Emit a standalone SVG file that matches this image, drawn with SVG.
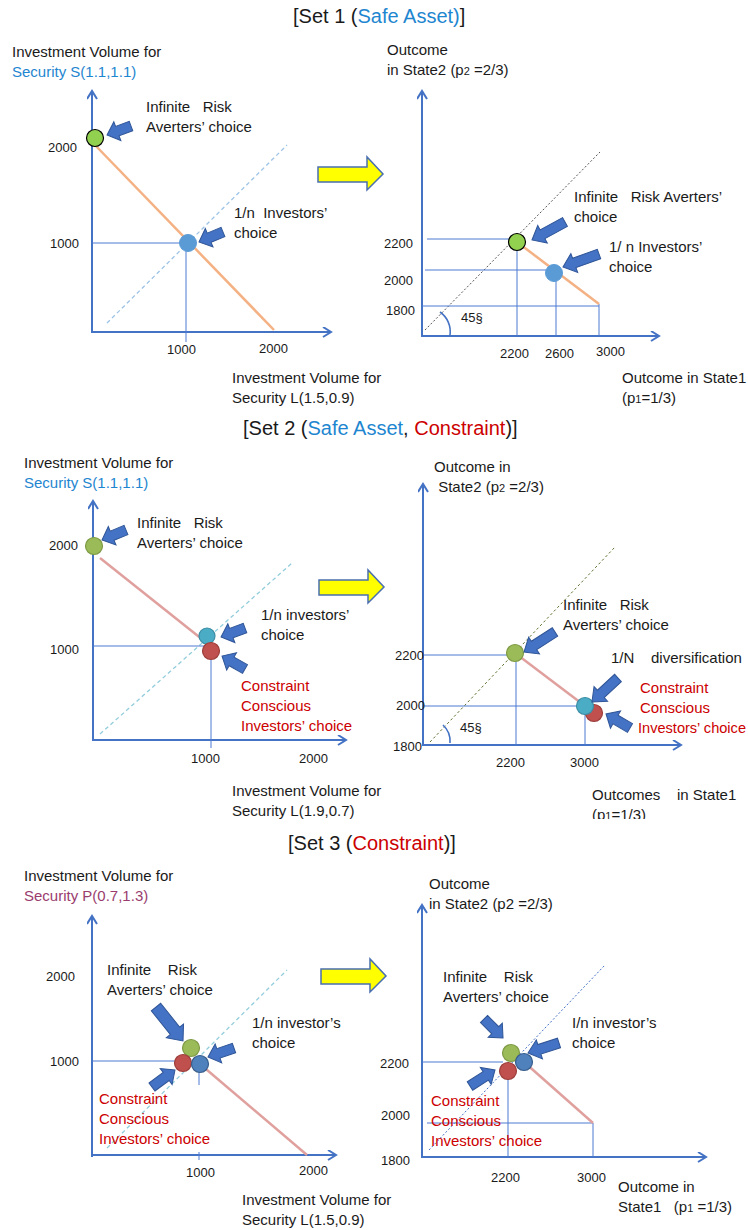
<svg xmlns="http://www.w3.org/2000/svg" width="748" height="1230" viewBox="0 0 748 1230">
<style>
text{font-family:"Liberation Sans",Arial,sans-serif;font-size:15px;fill:#1a1a1a;white-space:pre}
.title{font-size:20px}
.tick{font-size:13px}
.blue{fill:#1E86D0}
.red{fill:#CC0000}
.purple{fill:#9A3D6E}
.axis{stroke:#4472C4;stroke-width:2;fill:none;marker-end:url(#ah)}
.guide{stroke:#4A7BD0;stroke-width:1;fill:none}
.ba{fill:#4472C4;stroke:#2F5597;stroke-width:1}
.yel{fill:#FFFF00;stroke:#4A6FB0;stroke-width:1.5}
.sub{font-size:11px}
</style>
<defs>
<marker id="ah" markerWidth="12" markerHeight="12" refX="9" refY="5" orient="auto" markerUnits="userSpaceOnUse">
<path d="M1,0 L9,5 L1,10" fill="none" stroke="#4472C4" stroke-width="2"/>
</marker>
<path id="yarrow" d="M0,9 H49 V-1 L65,16 L49,32 V24 H0 Z"/>
<clipPath id="clip2"><rect x="0" y="0" width="748" height="819"/></clipPath>
</defs>

<!-- ================= SET 1 ================= -->
<g id="set1">
<text class="title" x="293" y="23">[Set 1 (<tspan class="blue">Safe Asset)</tspan>]</text>

<g id="set1-left">
<text x="12" y="57">Investment Volume for</text>
<text x="12" y="77" class="blue">Security S(1.1,1.1)</text>
<line class="axis" x1="92" y1="333" x2="92" y2="91"/>
<line class="axis" x1="91" y1="332" x2="331" y2="332"/>
<line x1="107" y1="323" x2="287" y2="145" stroke="#9DC3E6" stroke-width="1.3" stroke-dasharray="4,3"/>
<line x1="95" y1="145" x2="274" y2="330" stroke="#F4B183" stroke-width="2.5"/>
<line class="guide" x1="92" y1="243" x2="186" y2="243"/>
<line class="guide" x1="186" y1="243" x2="186" y2="342"/>
<circle cx="95" cy="138" r="8.5" fill="#92D050" stroke="#000" stroke-width="1.2"/>
<circle cx="188" cy="243" r="8.5" fill="#5B9BD5" stroke="#5B9BD5"/>
<text class="tick" x="48" y="152">2000</text>
<text class="tick" x="50" y="248">1000</text>
<text class="tick" x="167" y="354">1000</text>
<text class="tick" x="259" y="353">2000</text>
<text x="146" y="112">Infinite   Risk</text>
<text x="146" y="132">Averters’ choice</text>
<text x="234" y="218">1/n  Investors’</text>
<text x="234" y="238">choice</text>
<text x="232" y="383">Investment Volume for</text>
<text x="232" y="403">Security L(1.5,0.9)</text>
</g>

<use href="#yarrow" class="yel" x="318" y="158"/>

<g id="set1-right">
<text x="387" y="55">Outcome</text>
<text x="387" y="75">in State2 (p<tspan class="sub">2</tspan> =2/3)</text>
<line class="axis" x1="422" y1="337" x2="422" y2="91"/>
<line class="axis" x1="421" y1="336" x2="659" y2="336"/>
<line x1="425" y1="330" x2="600" y2="152" stroke="#555" stroke-width="1" stroke-dasharray="2,2"/>
<line class="guide" x1="427" y1="239" x2="515" y2="239"/>
<line class="guide" x1="425" y1="270" x2="552" y2="270"/>
<line class="guide" x1="422" y1="306" x2="599" y2="306"/>
<line class="guide" x1="517" y1="242" x2="517" y2="336"/>
<line class="guide" x1="556" y1="273" x2="556" y2="336"/>
<line class="guide" x1="599" y1="304" x2="599" y2="336"/>
<line x1="517" y1="242" x2="599" y2="304" stroke="#F4B183" stroke-width="2.5"/>
<circle cx="517" cy="242" r="8.5" fill="#92D050" stroke="#000" stroke-width="1.2"/>
<circle cx="554" cy="273" r="8.5" fill="#5B9BD5" stroke="#5B9BD5"/>
<path d="M440,312 A24,24 0 0 1 450,335" fill="none" stroke="#4472C4" stroke-width="1.6"/>
<text class="tick" x="461" y="322">45§</text>
<text class="tick" x="384" y="248">2200</text>
<text class="tick" x="384" y="285">2000</text>
<text class="tick" x="386" y="315">1800</text>
<text class="tick" x="500" y="358">2200</text>
<text class="tick" x="545" y="358">2600</text>
<text class="tick" x="596" y="356">3000</text>
<text x="574" y="202">Infinite   Risk Averters’</text>
<text x="574" y="222">choice</text>
<text x="609" y="252">1/ n Investors’</text>
<text x="609" y="272">choice</text>
<text x="622" y="383">Outcome in State1</text>
<text x="622" y="403">(p<tspan class="sub">1</tspan>=1/3)</text>
</g>
</g>

<!-- ================= SET 2 ================= -->
<g id="set2">
<text class="title" x="243" y="435">[Set 2 (<tspan class="blue">Safe Asset</tspan>, <tspan class="red">Constraint</tspan>)]</text>

<g id="set2-left">
<text x="24" y="468">Investment Volume for</text>
<text x="24" y="488" class="blue">Security S(1.1,1.1)</text>
<line class="axis" x1="93" y1="741" x2="93" y2="501"/>
<line class="axis" x1="92" y1="740" x2="346" y2="740"/>
<line x1="100" y1="734" x2="292" y2="563" stroke="#92CDDC" stroke-width="1.3" stroke-dasharray="4,3"/>
<line x1="100" y1="558" x2="203" y2="640" stroke="#E0A09E" stroke-width="2.5"/>
<line class="guide" x1="93" y1="646" x2="206" y2="646"/>
<line class="guide" x1="211" y1="651" x2="211" y2="748"/>
<circle cx="94" cy="546" r="8.5" fill="#9BBB59" stroke="#7E9A45" stroke-width="1.2"/>
<circle cx="207" cy="636" r="8" fill="#4BACC6" stroke="#3C8DA4" stroke-width="1.2"/>
<circle cx="211" cy="651" r="8.5" fill="#C0504D" stroke="#9C3E3B" stroke-width="1.2"/>
<text class="tick" x="49" y="550">2000</text>
<text class="tick" x="50" y="654">1000</text>
<text class="tick" x="191" y="763">1000</text>
<text class="tick" x="299" y="763">2000</text>
<text x="137" y="528">Infinite   Risk</text>
<text x="137" y="548">Averters’ choice</text>
<text x="261" y="620">1/n investors’</text>
<text x="261" y="640">choice</text>
<text class="red" x="241" y="691">Constraint</text>
<text class="red" x="241" y="711">Conscious</text>
<text class="red" x="241" y="731">Investors’ choice</text>
<text x="232" y="796">Investment Volume for</text>
<text x="232" y="816">Security L(1.9,0.7)</text>
</g>

<use href="#yarrow" class="yel" x="319" y="571"/>

<g id="set2-right">
<text x="434" y="472">Outcome in</text>
<text x="434" y="492"> State2 (p<tspan class="sub">2</tspan> =2/3)</text>
<line class="axis" x1="423" y1="746" x2="423" y2="484"/>
<line class="axis" x1="422" y1="745" x2="681" y2="745"/>
<line x1="430" y1="742" x2="615" y2="547" stroke="#5E7330" stroke-width="1" stroke-dasharray="2.5,2.5"/>
<line class="guide" x1="423" y1="655" x2="512" y2="655"/>
<line class="guide" x1="423" y1="706" x2="580" y2="706"/>
<line class="guide" x1="516" y1="653" x2="516" y2="745"/>
<line class="guide" x1="585" y1="706" x2="585" y2="745"/>
<line x1="515" y1="653" x2="585" y2="706" stroke="#E0A09E" stroke-width="2.5"/>
<circle cx="515" cy="653" r="8.5" fill="#9BBB59" stroke="#7E9A45" stroke-width="1.2"/>
<circle cx="594" cy="713" r="8.5" fill="#C0504D" stroke="#9C3E3B" stroke-width="1.2"/>
<circle cx="585" cy="706" r="8.5" fill="#4BACC6" stroke="#3C8DA4" stroke-width="1.2"/>
<path d="M443,725 A22,22 0 0 1 450,743" fill="none" stroke="#4472C4" stroke-width="1.6"/>
<text class="tick" x="460" y="732">45§</text>
<text class="tick" x="395" y="660">2200</text>
<text class="tick" x="396" y="710">2000</text>
<text class="tick" x="393" y="751">1800</text>
<text class="tick" x="496" y="767">2200</text>
<text class="tick" x="570" y="767">3000</text>
<text x="563" y="610">Infinite   Risk</text>
<text x="563" y="630">Averters’ choice</text>
<text x="611" y="663">1/N    diversification</text>
<text class="red" x="640" y="693">Constraint</text>
<text class="red" x="640" y="713">Conscious</text>
<text class="red" x="638" y="733" textLength="108" lengthAdjust="spacingAndGlyphs">Investors’ choice</text>
<text x="592" y="800">Outcomes    in State1</text>
<text x="592" y="820" clip-path="url(#clip2)">(p<tspan class="sub">1</tspan>=1/3)</text>
</g>
</g>

<!-- ================= SET 3 ================= -->
<g id="set3">
<text class="title" x="288" y="850">[Set 3 (<tspan class="red">Constraint</tspan>)]</text>

<g id="set3-left">
<text x="24" y="881">Investment Volume for</text>
<text x="24" y="901" class="purple">Security P(0.7,1.3)</text>
<line class="axis" x1="92" y1="1157" x2="92" y2="916"/>
<line class="axis" x1="91" y1="1155" x2="336" y2="1155"/>
<line x1="107" y1="1148" x2="287" y2="970" stroke="#92CDDC" stroke-width="1.3" stroke-dasharray="4,3"/>
<line x1="200" y1="1064" x2="307" y2="1155" stroke="#E0A09E" stroke-width="2.5"/>
<line class="guide" x1="92" y1="1061" x2="178" y2="1061"/>
<line class="guide" x1="199" y1="1066" x2="199" y2="1085"/>
<line class="guide" x1="199" y1="1152" x2="199" y2="1160"/>
<circle cx="191" cy="1048" r="8.5" fill="#9BBB59" stroke="#7E9A45" stroke-width="1.2"/>
<circle cx="183" cy="1063" r="8.5" fill="#C0504D" stroke="#9C3E3B" stroke-width="1.2"/>
<circle cx="200" cy="1064" r="8.5" fill="#4F81BD" stroke="#385D8A" stroke-width="1.2"/>
<text class="tick" x="46" y="981">2000</text>
<text class="tick" x="50" y="1066">1000</text>
<text class="tick" x="186" y="1177">1000</text>
<text class="tick" x="299" y="1175">2000</text>
<text x="107" y="975">Infinite    Risk</text>
<text x="107" y="995">Averters’ choice</text>
<text x="252" y="1028">1/n investor’s</text>
<text x="252" y="1048">choice</text>
<text class="red" x="99" y="1104">Constraint</text>
<text class="red" x="99" y="1124">Conscious</text>
<text class="red" x="99" y="1144">Investors’ choice</text>
<text x="242" y="1205">Investment Volume for</text>
<text x="242" y="1225">Security L(1.5,0.9)</text>
</g>

<use href="#yarrow" class="yel" x="321" y="960"/>

<g id="set3-right">
<text x="429" y="889">Outcome</text>
<text x="429" y="909">in State2 (p2 =2/3)</text>
<line class="axis" x1="422" y1="1158" x2="422" y2="905"/>
<line class="axis" x1="421" y1="1157" x2="706" y2="1157"/>
<line x1="429" y1="1150" x2="605" y2="965" stroke="#4472C4" stroke-width="1" stroke-dasharray="2,2"/>
<line class="guide" x1="422" y1="1062" x2="503" y2="1062"/>
<line class="guide" x1="427" y1="1123" x2="593" y2="1123"/>
<line class="guide" x1="508" y1="1071" x2="508" y2="1157"/>
<line class="guide" x1="593" y1="1123" x2="593" y2="1157"/>
<line x1="524" y1="1062" x2="593" y2="1123" stroke="#E0A09E" stroke-width="2.5"/>
<circle cx="511" cy="1053" r="8.5" fill="#9BBB59" stroke="#7E9A45" stroke-width="1.2"/>
<circle cx="508" cy="1071" r="8.5" fill="#C0504D" stroke="#9C3E3B" stroke-width="1.2"/>
<circle cx="524" cy="1062" r="8.5" fill="#4F81BD" stroke="#385D8A" stroke-width="1.2"/>
<text class="tick" x="380" y="1068">2200</text>
<text class="tick" x="381" y="1120">2000</text>
<text class="tick" x="381" y="1165">1800</text>
<text class="tick" x="491" y="1182">2200</text>
<text class="tick" x="577" y="1182">3000</text>
<text x="443" y="982">Infinite    Risk</text>
<text x="443" y="1002">Averters’ choice</text>
<text x="572" y="1028">I/n investor’s</text>
<text x="572" y="1048">choice</text>
<text class="red" x="431" y="1106">Constraint</text>
<text class="red" x="431" y="1126">Conscious</text>
<text class="red" x="431" y="1146">Investors’ choice</text>
<text x="618" y="1192">Outcome in</text>
<text x="618" y="1212">State1   (p<tspan class="sub">1</tspan> =1/3)</text>
</g>
</g>

<!-- ============ block arrows (connectors) ============ -->
<g id="connectors">
<path class="ba" transform="translate(131 126) rotate(159.4)" d="M0,-5 H14.6 V-10 L25.6,0 L14.6,10 V5 H0 Z"/>
<path class="ba" transform="translate(223 232) rotate(157.4)" d="M0,-5 H15 V-10 L26,0 L15,10 V5 H0 Z"/>
<path class="ba" transform="translate(565 222) rotate(151.4)" d="M0,-5 H25.6 V-10 L37.6,0 L25.6,10 V5 H0 Z"/>
<path class="ba" transform="translate(599 254) rotate(160.1)" d="M0,-5 H26.3 V-10 L38.3,0 L26.3,10 V5 H0 Z"/>
<path class="ba" transform="translate(126 530) rotate(157.4)" d="M0,-5 H15 V-10 L26,0 L15,10 V5 H0 Z"/>
<path class="ba" transform="translate(245 628) rotate(159.4)" d="M0,-5 H14.6 V-10 L25.6,0 L14.6,10 V5 H0 Z"/>
<path class="ba" transform="translate(245 669) rotate(209.5)" d="M0,-5 H15.4 V-10 L26.4,0 L15.4,10 V5 H0 Z"/>
<path class="ba" transform="translate(555 632) rotate(147.2)" d="M0,-5 H24.9 V-10 L36.9,0 L24.9,10 V5 H0 Z"/>
<path class="ba" transform="translate(618 678) rotate(137.3)" d="M0,-5 H23.4 V-10 L35.4,0 L23.4,10 V5 H0 Z"/>
<path class="ba" transform="translate(630 728) rotate(210.3)" d="M0,-5 H16.8 V-10 L27.8,0 L16.8,10 V5 H0 Z"/>
<path class="ba" transform="translate(156 1007) rotate(51.5)" d="M0,-6 H30.4 V-11 L43.4,0 L30.4,11 V6 H0 Z"/>
<path class="ba" transform="translate(234 1048) rotate(160.9)" d="M0,-5 H16.5 V-10 L27.5,0 L16.5,10 V5 H0 Z"/>
<path class="ba" transform="translate(152 1087) rotate(-36.5)" d="M0,-5 H17.6 V-10 L28.6,0 L17.6,10 V5 H0 Z"/>
<path class="ba" transform="translate(484 1019) rotate(45)" d="M0,-5 H15.9 V-10 L26.9,0 L15.9,10 V5 H0 Z"/>
<path class="ba" transform="translate(559 1043) rotate(162.1)" d="M0,-5 H20.6 V-10 L32.6,0 L20.6,10 V5 H0 Z"/>
<path class="ba" transform="translate(470 1086) rotate(-32.6)" d="M0,-5 H18.7 V-10 L29.7,0 L18.7,10 V5 H0 Z"/>
</g>
</svg>
